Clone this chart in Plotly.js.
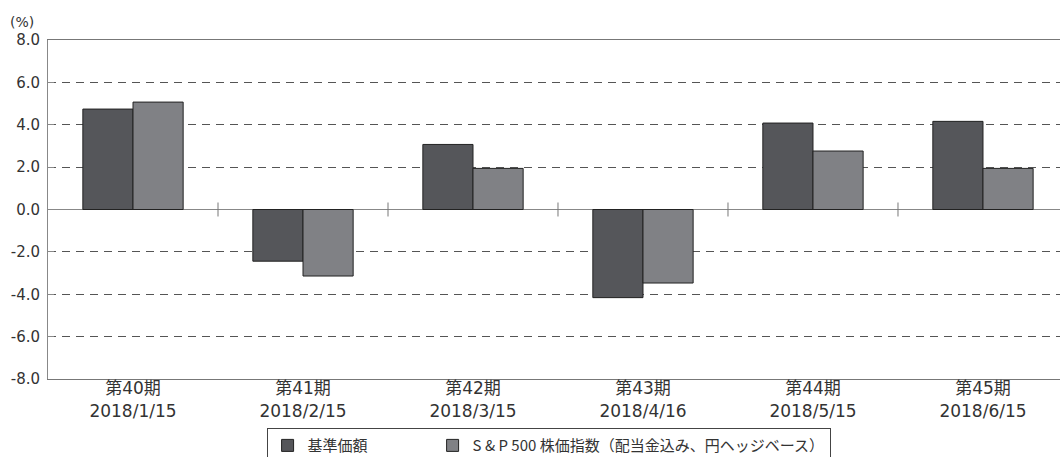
<!DOCTYPE html>
<html>
<head>
<meta charset="utf-8">
<script src="https://cdn.plot.ly/plotly-3.0.1.min.js"></script>
<style>html,body{margin:0;padding:0;background:#fff;}#chart{width:1060px;height:457px;}</style>
</head>
<body>
<div id="chart"></div>
<script>
const periods = ["第40期", "第41期", "第42期", "第43期", "第44期", "第45期"];
const dates = ["2018/1/15", "2018/2/15", "2018/3/15", "2018/4/16", "2018/5/15", "2018/6/15"];
const seriesNames = ["基準価額", "S & P 500 株価指数（配当金込み、円ヘッジベース）"];
const navValues = [4.74, -2.44, 3.07, -4.16, 4.08, 4.16];
const indexValues = [5.07, -3.14, 1.94, -3.47, 2.76, 1.94];
const yTicks = [-8, -6, -4, -2, 0, 2, 4, 6, 8];

const categories = periods.map((p, i) => p + "<br>" + dates[i]);
const yTickText = yTicks.map(v => v.toFixed(1));
const FONT = '"Noto Sans CJK JP", "Noto Sans", sans-serif';
const TICKFONT = '"DejaVu Sans", "Noto Sans CJK JP", sans-serif';
const LEGEND_PAD = "\u3000\u3000\u3000\u3000";

const traces = [
  {type: "bar", name: seriesNames[0] + LEGEND_PAD, x: categories, y: navValues,
   marker: {color: "#55565a", line: {color: "#222222", width: 1}}},
  {type: "bar", name: seriesNames[1], x: categories, y: indexValues,
   marker: {color: "#808185", line: {color: "#222222", width: 1}}}
];

const shapes = [];
for (let i = 0; i < categories.length - 1; i++) {
  shapes.push({type: "line", xref: "x", yref: "y", x0: i + 0.5, x1: i + 0.5, y0: -0.33, y1: 0.33,
    line: {color: "#777777", width: 1}});
}

const layout = {
  width: 1060, height: 457,
  margin: {l: 48, r: 0, t: 40, b: 78, autoexpand: false},
  paper_bgcolor: "#ffffff", plot_bgcolor: "#ffffff",
  font: {family: FONT, size: 15, color: "#333333"},
  barmode: "group", bargap: 0.41, bargroupgap: 0,
  showlegend: true,
  legend: {orientation: "h", x: 0.216, xanchor: "left", y: -0.145, yanchor: "top",
    bordercolor: "#444444", borderwidth: 1, font: {size: 15, color: "#333333"},
    traceorder: "normal"},
  xaxis: {type: "category", range: [-0.5, 5.453], showgrid: false, zeroline: false,
    showline: true, linecolor: "#777777", linewidth: 1, mirror: true, ticks: "",
    automargin: false, ticklabelstandoff: -6,
    tickfont: {family: TICKFONT, size: 17, color: "#333333"}, fixedrange: true},
  yaxis: {range: [-8, 8], tickvals: yTicks, ticktext: yTickText, showgrid: true,
    gridcolor: "#555555", griddash: "8px,6px", gridwidth: 1, automargin: false,
    zeroline: true, zerolinecolor: "#888888", zerolinewidth: 1,
    showline: true, linecolor: "#888888", linewidth: 1, ticks: "inside", ticklen: 6,
    ticklabelstandoff: 4,
    tickcolor: "#888888", tickfont: {family: TICKFONT, size: 15, color: "#333333"}, fixedrange: true},
  shapes: shapes,
  annotations: [{text: "(%)", xref: "paper", yref: "paper", x: -0.04, y: 1.0, xanchor: "left",
    yanchor: "bottom", yshift: 8, showarrow: false,
    font: {family: TICKFONT, size: 14, color: "#333333"}}]
};

Plotly.newPlot("chart", traces, layout, {displayModeBar: false, staticPlot: true});
</script>
</body>
</html>
